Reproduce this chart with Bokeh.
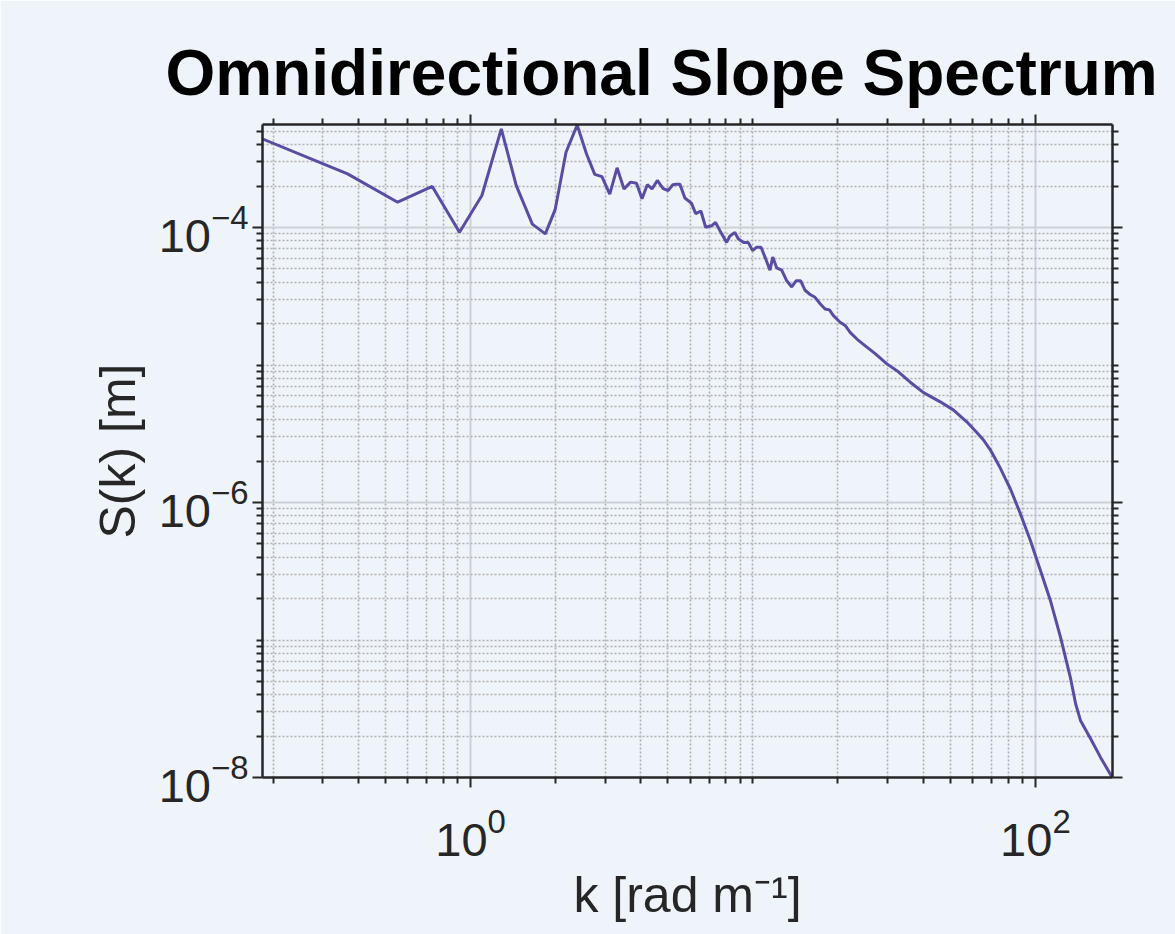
from bokeh.plotting import figure
from bokeh.models import Range1d, FixedTicker, LogAxis, CustomJSTickFormatter
from bokeh.embed import file_html
from bokeh.resources import INLINE

# ---- data ----
k = [0.183, 0.367, 0.552, 0.732, 0.914, 1.097, 1.285, 1.452, 1.655, 1.840,
     1.993, 2.178, 2.386, 2.573, 2.753, 2.919, 3.111, 3.303, 3.494, 3.688,
     3.869, 4.047, 4.226, 4.391, 4.585, 4.808, 5.008, 5.204, 5.355, 5.510,
     5.741, 6.061, 6.27, 6.54, 6.80, 7.14, 7.37, 7.64, 8.07, 8.29,
     8.63, 8.87, 9.24, 9.62, 9.97, 10.31, 10.68, 11.03, 11.49, 11.75,
     12.13, 12.64, 13.17, 13.72, 14.21, 14.76, 15.29, 15.93, 16.59, 17.29,
     18.0, 18.65, 19.27, 20.35, 21.20, 22.08, 23.63, 25.31, 27.08, 29.80,
     32.33, 36.05, 40.17, 46.04, 51.32, 57.27, 62.15, 65.5, 69.24, 72.1,
     75.13, 78.2, 81.52, 88.47, 96.0, 104.2, 113.0, 122.7, 133.1, 139.0,
     144.4, 156.7, 170.1, 187.1]
S = [4.42e-4, 2.46e-4, 1.53e-4, 1.99e-4, 9.24e-5, 1.71e-4, 5.22e-4, 2.02e-4, 1.06e-4, 9.0e-5,
     1.35e-4, 3.53e-4, 5.57e-4, 3.44e-4, 2.44e-4, 2.35e-4, 1.75e-4, 2.72e-4, 1.91e-4, 2.14e-4,
     2.10e-4, 1.62e-4, 2.05e-4, 1.91e-4, 2.20e-4, 1.92e-4, 1.86e-4, 2.05e-4, 2.07e-4, 2.07e-4,
     1.64e-4, 1.50e-4, 1.26e-4, 1.32e-4, 1.005e-4, 1.03e-4, 1.09e-4, 9.5e-5, 7.8e-5, 8.7e-5,
     9.2e-5, 8.3e-5, 7.8e-5, 7.8e-5, 6.8e-5, 7.2e-5, 7.2e-5, 6.1e-5, 4.9e-5, 6.1e-5,
     5.1e-5, 4.9e-5, 4.1e-5, 3.7e-5, 4.1e-5, 4.1e-5, 3.5e-5, 3.26e-5, 3.11e-5, 2.79e-5,
     2.56e-5, 2.52e-5, 2.29e-5, 2.05e-5, 1.94e-5, 1.73e-5, 1.51e-5, 1.35e-5, 1.21e-5, 1.02e-5,
     9.1e-6, 7.5e-6, 6.3e-6, 5.4e-6, 4.7e-6, 3.85e-6, 3.22e-6, 2.85e-6, 2.42e-6, 2.08e-6,
     1.78e-6, 1.50e-6, 1.26e-6, 8.3e-7, 5.3e-7, 3.2e-7, 1.94e-7, 1.05e-7, 5.3e-8, 3.4e-8,
     2.6e-8, 1.92e-8, 1.40e-8, 1.0e-8]
assert len(k) == len(S)

X_MAJOR_TICKS = [1e-2, 1e0, 1e2]
Y_MAJOR_TICKS = [1e-8, 1e-6, 1e-4]
X_DECADES = [-1, 0, 1, 2]
Y_DECADES = [-8, -7, -6, -5, -4]

TITLE = "Omnidirectional Slope Spectrum"
XLABEL = "k [rad m\u207b\u00b9]"
YLABEL = "S(k) [m]"

BG = "#eff4fa"
LINE = "#5a4ca2"
INK = "#262626"
FONT = "Liberation Sans"

x_minor = [m * 10.0 ** e for e in X_DECADES for m in range(1, 10)
           if m * 10.0 ** e not in X_MAJOR_TICKS]
y_minor = [m * 10.0 ** e for e in Y_DECADES for m in range(1, 10)
           if m * 10.0 ** e not in Y_MAJOR_TICKS]

p = figure(width=1175, height=934, x_axis_type="log", y_axis_type="log",
           x_range=Range1d(0.1834, 187.5), y_range=Range1d(1e-8, 5.62e-4),
           output_backend="svg", toolbar_location=None,
           min_border_left=262, min_border_right=63,
           min_border_top=124, min_border_bottom=157,
           background_fill_color=BG, border_fill_color=BG,
           outline_line_color=None, title=TITLE)

p.title.align = "left"
p.title.offset = -97
p.title.text_font = FONT
p.title.text_font_size = "64px"
p.title.text_font_style = "bold"
p.title.text_color = "black"
p.title.standoff = 12

xt = FixedTicker(ticks=X_MAJOR_TICKS, minor_ticks=x_minor)
yt = FixedTicker(ticks=Y_MAJOR_TICKS, minor_ticks=y_minor)


def style_axis(ax):
    ax.axis_line_color = INK
    ax.axis_line_width = 2.5
    ax.major_tick_line_color = INK
    ax.major_tick_line_width = 2
    ax.minor_tick_line_color = INK
    ax.minor_tick_line_width = 2
    ax.major_tick_in = 0
    ax.major_tick_out = 10
    ax.minor_tick_in = 0
    ax.minor_tick_out = 6
    ax.major_label_text_font = FONT
    ax.major_label_text_font_size = "47px"
    ax.major_label_text_color = INK
    ax.axis_label_text_font = FONT
    ax.axis_label_text_font_size = "50px"
    ax.axis_label_text_font_style = "normal"
    ax.axis_label_text_color = INK


for ax in p.xaxis:
    ax.ticker = xt
    style_axis(ax)
    ax.axis_label = XLABEL
    ax.major_label_standoff = 20
    ax.axis_label_standoff = 8
for ax in p.yaxis:
    ax.ticker = yt
    style_axis(ax)
    ax.axis_label = YLABEL
    ax.major_label_standoff = 4
    ax.axis_label_standoff = 10

blank = CustomJSTickFormatter(code="return ''")
top = LogAxis(ticker=xt, formatter=blank)
right = LogAxis(ticker=yt, formatter=blank)
for ax in (top, right):
    style_axis(ax)
    ax.major_label_standoff = 0
    ax.major_label_text_font_size = "1px"
p.add_layout(top, "above")
p.add_layout(right, "right")

for g in (p.xgrid[0], p.ygrid[0]):
    g.grid_line_color = "#cdd1d6"
    g.grid_line_width = 2
    g.minor_grid_line_color = "#b0b0b0"
    g.minor_grid_line_width = 1.6
    g.minor_grid_line_dash = "2 2"

p.line(k, S, line_color=LINE, line_width=3)

open("out.html", "w").write(file_html(p, INLINE))
